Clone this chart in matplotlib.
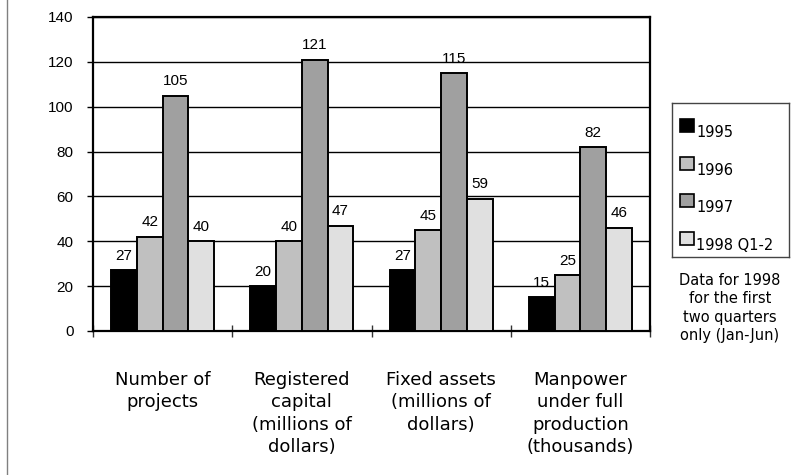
import matplotlib
matplotlib.use("Agg")
import matplotlib.pyplot as plt
from matplotlib.patches import Rectangle
from matplotlib.lines import Line2D
import numpy as np

categories = [
    "Number of\nprojects",
    "Registered\ncapital\n(millions of\ndollars)",
    "Fixed assets\n(millions of\ndollars)",
    "Manpower\nunder full\nproduction\n(thousands)",
]
series_names = ["1995", "1996", "1997", "1998 Q1-2"]
values_1995 = [27, 20, 27, 15]
values_1996 = [42, 40, 45, 25]
values_1997 = [105, 121, 115, 82]
values_1998 = [40, 47, 59, 46]
y_ticks = [0, 20, 40, 60, 80, 100, 120, 140]
note_text = "Data for 1998\nfor the first\ntwo quarters\nonly (Jan-Jun)"

series_values = [values_1995, values_1996, values_1997, values_1998]
colors = ["#000000", "#c0c0c0", "#a0a0a0", "#e0e0e0"]

W, H = 797, 475
fig = plt.figure(figsize=(W / 100, H / 100), dpi=100)

def px_axes(x0, y0, x1, y1):
    return fig.add_axes([x0 / W, 1 - y1 / H, (x1 - x0) / W, (y1 - y0) / H])

ax = px_axes(93, 17, 650, 331)

num_font = "Liberation Sans"
text_font = "DejaVu Sans"

x = np.arange(len(categories))
bw = 0.185
for i, (vals, col) in enumerate(zip(series_values, colors)):
    pos = x + (i - 1.5) * bw
    ax.bar(pos, vals, width=bw, color=col, edgecolor="black", linewidth=1.4, zorder=3)
    for px_, v in zip(pos, vals):
        ax.annotate(str(v), (px_, v), xytext=(0, 7.5), textcoords="offset points",
                    ha="center", va="baseline", fontsize=11, family=num_font,
                    zorder=4)

ax.set_xlim(-0.5, len(categories) - 0.5)
ax.set_ylim(0, 140)
ax.set_yticks(y_ticks)
ax.set_yticklabels([str(t) for t in y_ticks], fontsize=11, family=num_font)
ax.tick_params(axis="y", direction="out", length=4, width=1, pad=10, color="black")
ax.yaxis.grid(True, color="black", linewidth=1.0, zorder=0)
ax.set_axisbelow(True)

# category labels at group centers, tick marks at category boundaries
ax.set_xticks(x)
ax.set_xticklabels(categories, fontsize=13, family=text_font, linespacing=1.3,
                   va="top")
ax.tick_params(axis="x", length=0, pad=29)
ax.set_xticks(np.arange(len(categories) + 1) - 0.5, minor=True)
ax.tick_params(axis="x", which="minor", direction="inout", length=8, width=1,
               color="#333333")

for s in ax.spines.values():
    s.set_color("black")
    s.set_linewidth(1.6)

# legend box
lax = px_axes(672, 103, 789, 257)
lax.set_xlim(0, 117)
lax.set_ylim(154, 0)
lax.set_xticks([])
lax.set_yticks([])
for s in lax.spines.values():
    s.set_color("#444444")
    s.set_linewidth(1.0)
for i, (name, col) in enumerate(zip(series_names, colors)):
    top = 16 + i * 37.7
    lax.add_patch(Rectangle((8, top), 14, 13, facecolor=col, edgecolor="black",
                            linewidth=1.2))
    lax.text(24, top + 18, name, fontsize=10.5, family=text_font,
             ha="left", va="baseline")

fig.text(730 / W, 1 - 273 / H, note_text, ha="center", va="top",
         fontsize=10.5, family=text_font, linespacing=1.28)

# left border line
fig.add_artist(Line2D([7 / W, 7 / W], [0, 1], color="#808080", linewidth=1.0,
                      transform=fig.transFigure))

fig.savefig("out.png", dpi=100)
